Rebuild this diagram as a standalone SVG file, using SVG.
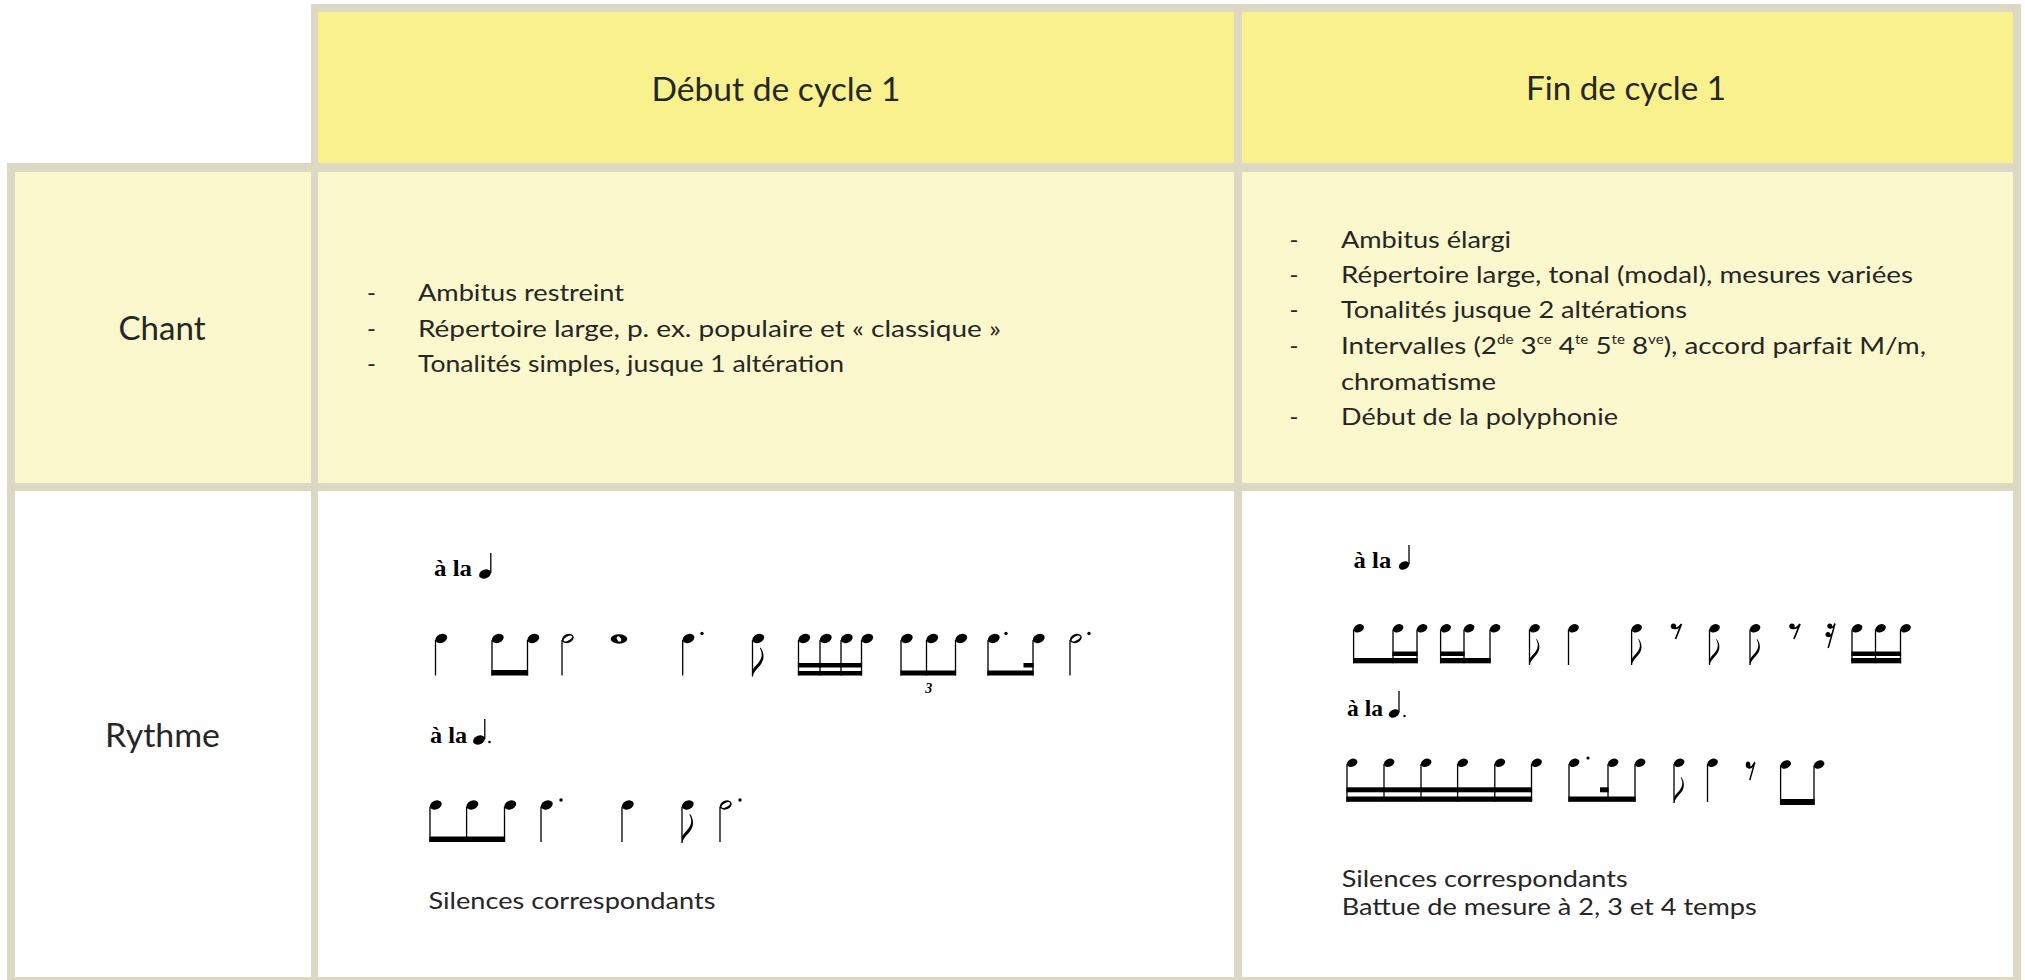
<svg xmlns="http://www.w3.org/2000/svg" xmlns:xlink="http://www.w3.org/1999/xlink" width="2025" height="980" viewBox="0 0 2025 980">
<style>
.brd{fill:#DDD8C4}
.hdr{fill:#F8F18D}
.lt{fill:#FAF8CC}
.wh{fill:#FFFFFF}
.t{font-family:Lato,'Open Sans',sans-serif;fill:#262626}
.big{font-size:32px}
.bd{font-size:24px}
.sup{font-size:13px}
.mus{font-family:'Liberation Serif','Times New Roman',serif;font-weight:bold;font-size:23px;fill:#000}
.tri{font-family:'Liberation Serif','Times New Roman',serif;font-weight:bold;font-style:italic;font-size:14px;fill:#000}
.stem{stroke:#000;stroke-width:1.3;fill:none}
.bm{fill:#000}
</style>
<defs>
  <ellipse id="h" rx="6.2" ry="4.3" transform="rotate(-25)"/>
  <ellipse id="hs" rx="5.5" ry="3.9" transform="rotate(-25)"/>
  <g id="hh"><ellipse rx="6.2" ry="4.3" transform="rotate(-25)"/><ellipse rx="4.7" ry="2" transform="rotate(-30)" fill="#fff"/></g>
  <g id="wn"><ellipse rx="8.3" ry="4.7"/><ellipse rx="2.9" ry="1.9" transform="rotate(60)" fill="#fff"/></g>
  <path id="fl" d="M0 0C2-8 11-11 11-20C11-24 10-26 8-29L7.4-28.5C9-25 9.5-23 9-20C8-14 2-11 0-6Z"/>
  <g id="r8"><circle cx="3" cy="3.2" r="2.7"/><path d="M2.5 5Q7 7 11 1L5 16" fill="none" stroke="#000" stroke-width="1.7"/></g>
  <g id="r16"><circle cx="3.8" cy="3" r="2.5"/><circle cx="2" cy="11.5" r="2.5"/><path d="M3.5 4.8Q7 5.5 9 0.5L2.2 25M1.8 13.3Q5 14 7 8.5" fill="none" stroke="#000" stroke-width="1.5"/></g>
</defs>

<rect width="2025" height="980" fill="#FFFFFF"/>

<g id="table-frame">
  <rect class="brd" x="311" y="4" width="1710" height="168"/>
  <rect class="brd" x="7" y="163" width="2014" height="817"/>
</g>

<g id="header-debut">
  <rect class="hdr" x="318" y="12" width="916" height="151"/>
  <text class="t big" x="776" y="101" text-anchor="middle" textLength="249" lengthAdjust="spacingAndGlyphs">Début de cycle 1</text>
</g>
<g id="header-fin">
  <rect class="hdr" x="1242" y="12" width="771" height="151"/>
  <text class="t big" x="1626" y="100" text-anchor="middle" textLength="200" lengthAdjust="spacingAndGlyphs">Fin de cycle 1</text>
</g>

<g id="label-chant">
  <rect class="lt" x="15" y="172" width="296" height="311"/>
  <text class="t big" x="162" y="340" text-anchor="middle" textLength="87" lengthAdjust="spacingAndGlyphs">Chant</text>
</g>
<g id="chant-debut">
  <rect class="lt" x="318" y="172" width="916" height="311"/>
  <text class="t bd" x="367" y="300.7">-</text>
  <text class="t bd" x="418" y="300.7" textLength="206" lengthAdjust="spacingAndGlyphs">Ambitus restreint</text>
  <text class="t bd" x="367" y="337">-</text>
  <text class="t bd" x="418" y="337" textLength="583" lengthAdjust="spacingAndGlyphs">Répertoire large, p. ex. populaire et « classique »</text>
  <text class="t bd" x="367" y="371.7">-</text>
  <text class="t bd" x="418" y="371.7" textLength="426" lengthAdjust="spacingAndGlyphs">Tonalités simples, jusque 1 altération</text>
</g>
<g id="chant-fin">
  <rect class="lt" x="1242" y="172" width="771" height="311"/>
  <text class="t bd" x="1289.5" y="248.3">-</text>
  <text class="t bd" x="1341" y="248.3" textLength="170" lengthAdjust="spacingAndGlyphs">Ambitus élargi</text>
  <text class="t bd" x="1289.5" y="283.3">-</text>
  <text class="t bd" x="1341" y="283.3" textLength="572" lengthAdjust="spacingAndGlyphs">Répertoire large, tonal (modal), mesures variées</text>
  <text class="t bd" x="1289.5" y="318.3">-</text>
  <text class="t bd" x="1341" y="318.3" textLength="346" lengthAdjust="spacingAndGlyphs">Tonalités jusque 2 altérations</text>
  <text class="t bd" x="1289.5" y="354">-</text>
  <text class="t bd" x="1341" y="354" textLength="585" lengthAdjust="spacingAndGlyphs">Intervalles (2<tspan class="sup" dy="-10">de</tspan><tspan dy="10"> 3</tspan><tspan class="sup" dy="-10">ce</tspan><tspan dy="10"> 4</tspan><tspan class="sup" dy="-10">te</tspan><tspan dy="10"> 5</tspan><tspan class="sup" dy="-10">te</tspan><tspan dy="10"> 8</tspan><tspan class="sup" dy="-10">ve</tspan><tspan dy="10">), accord parfait M/m,</tspan></text>
  <text class="t bd" x="1341" y="390" textLength="155" lengthAdjust="spacingAndGlyphs">chromatisme</text>
  <text class="t bd" x="1289.5" y="425">-</text>
  <text class="t bd" x="1341" y="425" textLength="277" lengthAdjust="spacingAndGlyphs">Début de la polyphonie</text>
</g>

<g id="label-rythme">
  <rect class="wh" x="15" y="491" width="296" height="486"/>
  <text class="t big" x="162.5" y="747" text-anchor="middle" textLength="115" lengthAdjust="spacingAndGlyphs">Rythme</text>
</g>

<g id="rythme-debut">
  <rect class="wh" x="318" y="491" width="916" height="486"/>
  <text class="mus" x="434" y="576" textLength="38" lengthAdjust="spacingAndGlyphs">à la</text>
  <use href="#h" x="485" y="574"/>
  <path class="stem" d="M490.8 573V553"/>
  <g id="rd-row1">
    <use href="#h" x="441.3" y="638.5"/>
    <use href="#h" x="497.8" y="638.5"/>
    <use href="#h" x="533.3" y="638.5"/>
    <use href="#hh" x="567.8" y="638.5"/>
    <use href="#wn" x="619" y="639"/>
    <use href="#h" x="688.5" y="638.5"/>
    <use href="#h" x="758.3" y="638.5"/>
    <use href="#h" x="804.3" y="638.5"/>
    <use href="#h" x="825.8" y="638.5"/>
    <use href="#h" x="846.8" y="638.5"/>
    <use href="#h" x="867.3" y="638.5"/>
    <use href="#h" x="906.8" y="638.5"/>
    <use href="#h" x="932.3" y="638.5"/>
    <use href="#h" x="961.3" y="638.5"/>
    <use href="#h" x="993.8" y="638.5"/>
    <use href="#h" x="1038.8" y="638.5"/>
    <use href="#hh" x="1075.8" y="638.5"/>
    <path class="stem" d="M435.5 640V675.5M492 640V675.5M527.5 640V675.5M562 640V675.5M682.7 640V675.5M752.5 640V676.5M798.5 640V675.5M820 640V675.5M841 640V675.5M861.5 640V675.5M901 640V675.5M926.5 640V675.5M955.5 640V675.5M988 640V675.5M1033 640V675.5M1070 640V675.5"/>
    <rect class="bm" x="491.4" y="670" width="36.7" height="5.5"/>
    <rect class="bm" x="797.9" y="663" width="64.2" height="4.5"/>
    <rect class="bm" x="797.9" y="671" width="64.2" height="4.5"/>
    <rect class="bm" x="900.4" y="670.5" width="55.7" height="5"/>
    <rect class="bm" x="987.4" y="670.5" width="46.2" height="5"/>
    <rect class="bm" x="1023.5" y="663" width="10.1" height="4.5"/>
    <use href="#fl" x="752.5" y="676.5"/>
    <circle cx="702" cy="633.5" r="1.7"/>
    <circle cx="1006" cy="633.5" r="1.7"/>
    <circle cx="1089" cy="633.5" r="1.7"/>
    <text class="tri" x="928.7" y="693" text-anchor="middle">3</text>
  </g>
  <text class="mus" x="430" y="743" textLength="37" lengthAdjust="spacingAndGlyphs">à la</text>
  <use href="#h" x="479" y="740"/>
  <path class="stem" d="M484.8 739V719"/>
  <circle cx="489.5" cy="742" r="1.3"/>
  <g id="rd-row2">
    <use href="#h" x="435.8" y="805"/>
    <use href="#h" x="472.4" y="805"/>
    <use href="#h" x="510.3" y="805"/>
    <use href="#h" x="546.8" y="805"/>
    <use href="#h" x="627.8" y="805"/>
    <use href="#h" x="687.8" y="805"/>
    <use href="#hh" x="725.8" y="805"/>
    <path class="stem" d="M430 806.5V842M466.6 806.5V842M504.5 806.5V842M541 806.5V842M622 806.5V842M682 806.5V843M720 806.5V842"/>
    <rect class="bm" x="429.4" y="836.5" width="75.7" height="5.5"/>
    <use href="#fl" x="682" y="843"/>
    <circle cx="561" cy="800" r="1.7"/>
    <circle cx="740" cy="800" r="1.7"/>
  </g>
  <text class="t bd" x="428.5" y="909" textLength="287" lengthAdjust="spacingAndGlyphs">Silences correspondants</text>
</g>

<g id="rythme-fin">
  <rect class="wh" x="1242" y="491" width="771" height="486"/>
  <text class="mus" x="1353.6" y="568" textLength="37.6" lengthAdjust="spacingAndGlyphs">à la</text>
  <use href="#hs" x="1404" y="565.5"/>
  <path class="stem" d="M1409 564.5V545"/>
  <g id="rf-row1">
    <use href="#hs" x="1358.7" y="628.3"/>
    <use href="#hs" x="1398.1" y="628.3"/>
    <use href="#hs" x="1422.1" y="628.3"/>
    <use href="#hs" x="1445.7" y="628.3"/>
    <use href="#hs" x="1469.1" y="628.3"/>
    <use href="#hs" x="1495.1" y="628.3"/>
    <use href="#hs" x="1534.6" y="628.3"/>
    <use href="#hs" x="1573.6" y="628.3"/>
    <use href="#hs" x="1636.7" y="628.3"/>
    <use href="#hs" x="1714.6" y="628.3"/>
    <use href="#hs" x="1755.1" y="628.3"/>
    <use href="#hs" x="1857.1" y="628.3"/>
    <use href="#hs" x="1880.6" y="628.3"/>
    <use href="#hs" x="1905.6" y="628.3"/>
    <path class="stem" d="M1353.6 629.5V663.3M1393 629.5V663.3M1417 629.5V663.3M1440.6 629.5V663.3M1464 629.5V663.3M1490 629.5V663.3M1529.5 629.5V665M1568.5 629.5V665M1631.6 629.5V665M1709.5 629.5V665M1750 629.5V665M1852 629.5V663.3M1875.5 629.5V663.3M1900.5 629.5V663.3"/>
    <rect class="bm" x="1353" y="658" width="64.6" height="5.3"/>
    <rect class="bm" x="1392.4" y="651.5" width="25.2" height="4.5"/>
    <rect class="bm" x="1440" y="658" width="50.6" height="5.3"/>
    <rect class="bm" x="1440" y="651.5" width="24.6" height="4.5"/>
    <rect class="bm" x="1851.4" y="658" width="49.7" height="5.3"/>
    <rect class="bm" x="1851.4" y="651.5" width="49.7" height="4.5"/>
    <use href="#fl" transform="translate(1529.5 665) scale(0.9)"/>
    <use href="#fl" transform="translate(1631.6 665) scale(0.9)"/>
    <use href="#fl" transform="translate(1709.5 665) scale(0.9)"/>
    <use href="#fl" transform="translate(1750 665) scale(0.9)"/>
    <use href="#r8" x="1670.5" y="623"/>
    <use href="#r8" x="1789" y="623"/>
    <use href="#r16" x="1826" y="623"/>
  </g>
  <text class="mus" x="1347" y="716" textLength="36" lengthAdjust="spacingAndGlyphs">à la</text>
  <use href="#hs" x="1394" y="713.5"/>
  <path class="stem" d="M1399 712.5V691"/>
  <circle cx="1404.5" cy="716" r="1.2"/>
  <g id="rf-row2">
    <use href="#hs" x="1352.1" y="762.8"/>
    <use href="#hs" x="1389.1" y="762.8"/>
    <use href="#hs" x="1426.1" y="762.8"/>
    <use href="#hs" x="1462.7" y="762.8"/>
    <use href="#hs" x="1499.9" y="762.8"/>
    <use href="#hs" x="1536.6" y="762.8"/>
    <use href="#hs" x="1574.1" y="762.8"/>
    <use href="#hs" x="1613.1" y="762.8"/>
    <use href="#hs" x="1640.1" y="762.8"/>
    <use href="#hs" x="1679.1" y="762.8"/>
    <use href="#hs" x="1712.6" y="762.8"/>
    <use href="#hs" x="1785.7" y="764.5"/>
    <use href="#hs" x="1819.1" y="764.5"/>
    <path class="stem" d="M1347 764V801.7M1384 764V801.7M1421 764V801.7M1457.6 764V801.7M1494.8 764V801.7M1531.5 764V801.7M1569 764V801.7M1608 764V801.7M1635 764V801.7M1674 764V803M1707.5 764V802M1780.6 765.5V805M1814 765.5V805"/>
    <rect class="bm" x="1346.4" y="787.3" width="185.7" height="5"/>
    <rect class="bm" x="1346.4" y="796.5" width="185.7" height="5.3"/>
    <rect class="bm" x="1568.4" y="796.5" width="67.2" height="5.3"/>
    <rect class="bm" x="1600" y="787.3" width="8.6" height="5"/>
    <rect class="bm" x="1780" y="799" width="34.6" height="6"/>
    <use href="#fl" transform="translate(1674 803) scale(0.9)"/>
    <circle cx="1588" cy="758" r="1.6"/>
    <use href="#r8" transform="translate(1745.5 761) scale(0.85 1.2)"/>
  </g>
  <text class="t bd" x="1341.7" y="887" textLength="286" lengthAdjust="spacingAndGlyphs">Silences correspondants</text>
  <text class="t bd" x="1341.7" y="915" textLength="415" lengthAdjust="spacingAndGlyphs">Battue de mesure à 2, 3 et 4 temps</text>
</g>
</svg>
